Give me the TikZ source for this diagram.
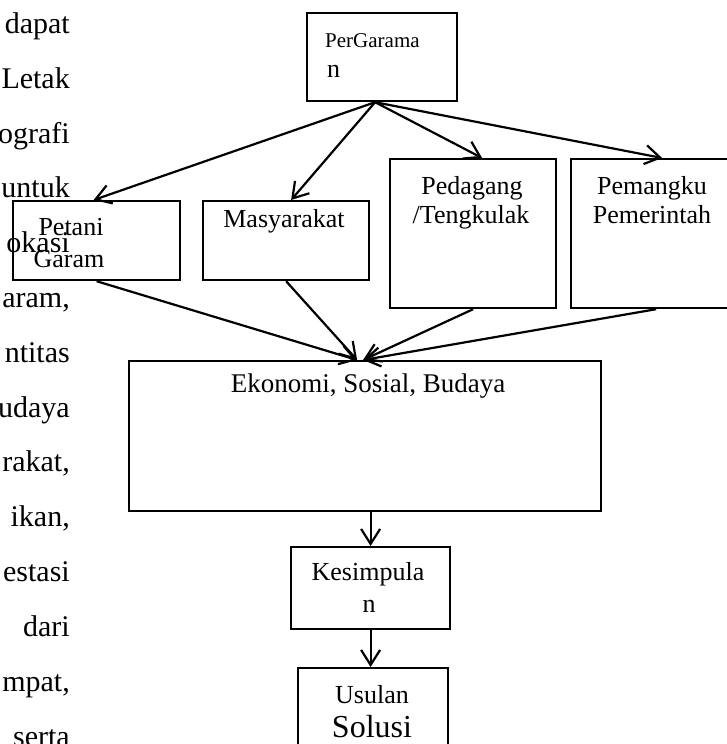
\documentclass[tikz,border=0pt]{standalone}
\usepackage{fontspec}
\setmainfont{Liberation Serif}
\usetikzlibrary{arrows.meta}

\tikzset{
  kotak/.style={draw, line width=2.2pt, inner sep=0pt, anchor=north west},
  panah/.style={line width=2.2pt, -{Straight Barb[length=15pt,width=19pt,line width=2.2pt]}},
  teks/.style={inner sep=0pt, anchor=base, font=\fontsize{26}{30}\selectfont},
  badan/.style={inner sep=0pt, anchor=base east, font=\fontsize{30}{36}\selectfont}
}

\begin{document}
\begin{tikzpicture}[x=1pt,y=1pt,yscale=-1]
\useasboundingbox (0,0) rectangle (726,744);

% Text Node
\node[badan] (b1) at (70,33) {dapat};
% Text Node
\node[badan] (b2) at (70,88) {Letak};
% Text Node
\node[badan] (b3) at (70,143) {ografi};
% Text Node
\node[badan] (b4) at (70,197) {untuk};
% Text Node
\node[badan] (b5) at (70,252) {okasi};
% Text Node
\node[badan] (b6) at (70,307) {aram,};
% Text Node
\node[badan] (b7) at (70,362) {ntitas};
% Text Node
\node[badan] (b8) at (70,417) {udaya};
% Text Node
\node[badan] (b9) at (70,471) {rakat,};
% Text Node
\node[badan] (b10) at (70,526) {ikan,};
% Text Node
\node[badan] (b11) at (70,581) {estasi};
% Text Node
\node[badan] (b12) at (70,636) {dari};
% Text Node
\node[badan] (b13) at (70,691) {mpat,};
% Text Node
\node[badan] (b14) at (70,746) {serta};

%Shape: Rectangle
\node[kotak, minimum width=150pt, minimum height=88pt] (perg) at (306,12) {};
%Shape: Rectangle
\node[kotak, minimum width=167pt, minimum height=79pt] (petani) at (12,200) {};
%Shape: Rectangle
\node[kotak, minimum width=166pt, minimum height=79pt] (masy) at (202,200) {};
%Shape: Rectangle
\node[kotak, minimum width=166pt, minimum height=149pt] (pedag) at (389,158) {};
%Shape: Rectangle
\node[kotak, minimum width=170pt, minimum height=149pt] (pemkr) at (570,158) {};
%Shape: Rectangle
\node[kotak, minimum width=472pt, minimum height=150pt] (eko) at (128,360) {};
%Shape: Rectangle
\node[kotak, minimum width=159pt, minimum height=82pt] (kes) at (290,546) {};
%Shape: Rectangle
\node[kotak, minimum width=150pt, minimum height=95pt] (usl) at (297,667) {};

% Text Node
\node[teks, anchor=base west, font=\fontsize{21}{25}\selectfont] (pergA) at (325,47) {PerGarama};
% Text Node
\node[teks, anchor=base west] (pergB) at (327,77) {n};
% Text Node
\node[teks] (petaniA) at (71,235) {Petani};
% Text Node
\node[teks] (petaniB) at (69,267) {Garam};
% Text Node
\node[teks] (masyA) at (284,227) {Masyarakat};
% Text Node
\node[teks] (pedagA) at (472,194) {Pedagang};
% Text Node
\node[teks] (pedagB) at (471,223) {/Tengkulak};
% Text Node
\node[teks] (pemkrA) at (652,194) {Pemangku};
% Text Node
\node[teks] (pemkrB) at (652,223) {Pemerintah};
% Text Node
\node[teks, font=\fontsize{27}{31}\selectfont] (ekoA) at (368,392) {Ekonomi, Sosial, Budaya};
% Text Node
\node[teks] (kesA) at (368,580) {Kesimpula};
% Text Node
\node[teks] (kesB) at (369,612) {n};
% Text Node
\node[teks] (uslA) at (372,703) {Usulan};
% Text Node
\node[teks, font=\fontsize{32}{36}\selectfont] (uslB) at (372,737) {Solusi};

%Straight Lines
\draw[panah] ([xshift=-7pt]perg.south) -- ([xshift=-3pt]petani.north);
\draw[panah] ([xshift=-7pt]perg.south) -- ([xshift=5pt]masy.north);
\draw[panah] ([xshift=-7pt]perg.south) -- ([xshift=9pt]pedag.north);
\draw[panah] ([xshift=-7pt]perg.south) -- ([xshift=6pt]pemkr.north);

%Straight Lines
\draw[panah] (petani.south) -- ([xshift=-8pt]eko.north);
\draw[panah] (masy.south) -- ([xshift=-8pt]eko.north);
\draw[panah] (pedag.south) -- ([xshift=-2pt]eko.north);
\draw[panah] (pemkr.south) -- ([xshift=-2pt]eko.north);

%Straight Lines
\draw[panah] (eko.south -| kes.north) -- (kes.north);
\draw[panah] (kes.south) -- (kes.south |- usl.north);

\end{tikzpicture}
\end{document}
